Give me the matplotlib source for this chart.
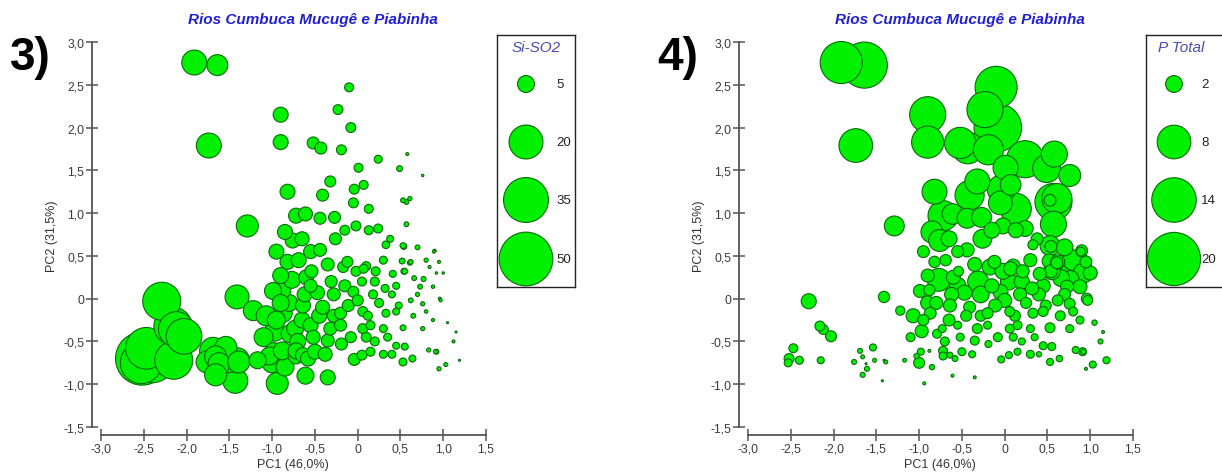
import matplotlib.pyplot as plt
import numpy as np
from matplotlib.ticker import FuncFormatter, MultipleLocator

plt.rcParams['font.family'] = ['Liberation Sans', 'DejaVu Sans']

# PCA scores of the sampling points (same points in both panels)
pc1 = [-1.91, -1.64, -1.74, -0.90, -0.90, -0.52, -0.43, -0.10, -0.23, -0.08,
       -0.19, 0.24, 0.58, 0.76, 0.49, 0.01, -0.32, -0.41, -0.04, 0.07,
       -0.82, 0.57, 0.61, 0.53, 0.13, -0.72, -0.61, -0.44, -0.27, 0.57,
       -1.29, -0.02, 0.24, -0.15, -0.85, -0.76, -0.26, -0.44, 0.53, 0.90,
       0.84, 0.62, -0.82, -0.54, -0.77, -0.90, -0.55, -0.99, -0.31, -0.17,
       -0.02, 0.05, 0.10, 0.21, 0.32, 0.41, 0.55, 0.73, 0.88, 0.96,
       0.62, 0.76, -1.41, -1.22, -1.07, -0.87, -0.64, -0.41, -0.11, -0.20,
       0.06, 0.33, 0.45, -0.97, -0.79, -0.73, -0.55, -0.32, -0.20, 0.06,
       0.15, 0.30, 0.53, 0.76, -0.35, -0.19, 0.20, 0.45, 0.55, 0.91,
       0.83, -0.72, -0.72, -0.64, -0.58, -0.50, -1.00, -0.98, -0.88, 0.05,
       0.15, -0.04, 0.53, 1.03, 0.95, 1.19, -0.61, -0.35, -0.94, -1.17,
       -1.03, -2.52, -2.40, -2.53, -2.47, -2.29, -2.15, -2.16, -2.12, -2.03,
       -1.69, -1.61, -1.43, -1.41, -1.52, -1.76, -1.54, -1.66, -1.66, -1.62,
       -1.39, -0.69, -0.62, -0.47, -0.35, -0.28, -0.05, 0.18, 0.25, 0.40,
       0.48, 0.66, 0.70, 0.80, 0.88, 0.97, 1.05, 1.15, 1.12, 0.89,
       0.95, 0.92, 0.77, 0.38, 0.33, 0.54, 0.52, 0.61, 0.54, -0.12,
       0.07, 0.64, 0.92, 0.30, 0.35, -0.08, 0.00, 0.12, -0.52, -0.65,
       -0.90, -0.45, -0.95, -0.88, -0.05, 0.13, -0.95, -0.80, -0.70, -0.60,
       -0.38, -0.28, -0.15, -0.55, -0.65, -1.10, -0.85, 0.20, 0.30, 0.45,
       0.65, 0.70, 0.80, 1.00, 0.10, 0.40]
pc2 = [2.76, 2.73, 1.79, 2.15, 1.83, 1.82, 1.76, 2.47, 2.21, 2.00,
       1.74, 1.63, 1.69, 1.44, 1.52, 1.53, 1.37, 1.21, 1.28, 1.33,
       1.25, 1.13, 1.17, 1.15, 1.05, 0.97, 0.99, 0.94, 0.95, 0.87,
       0.85, 0.85, 0.82, 0.80, 0.78, 0.68, 0.70, 0.57, 0.62, 0.56,
       0.37, 0.43, 0.43, 0.32, 0.22, 0.27, 0.15, 0.09, 0.20, 0.37,
       0.32, 0.20, 0.38, 0.32, 0.12, 0.29, 0.32, 0.14, 0.14, 0.00,
       -0.02, -0.06, 0.02, -0.14, -0.20, -0.17, -0.08, -0.10, -0.08, -0.17,
       -0.15, -0.17, -0.15, -0.38, -0.41, -0.35, -0.31, -0.35, -0.31, -0.35,
       -0.31, -0.35, -0.34, -0.35, -0.49, -0.53, -0.50, -0.55, -0.56, -0.62,
       -0.60, -0.61, -0.67, -0.66, -0.70, -0.62, -0.75, -0.62, -0.61, -0.66,
       -0.62, -0.71, -0.74, -0.77, -0.82, -0.72, -0.90, -0.92, -0.99, -0.72,
       -0.67, -0.70, -0.72, -0.75, -0.58, -0.03, -0.72, -0.32, -0.36, -0.44,
       -0.61, -0.82, -0.96, -0.72, -0.72, -0.74, -0.57, -0.68, -0.89, -0.76,
       -0.74, 0.45, 0.05, 0.07, 0.40, 0.05, 0.08, 0.05, -0.05, 0.05,
       -0.08, 0.24, 0.05, -0.15, -0.25, -0.02, -0.28, -0.39, -0.50, 0.55,
       0.43, 0.30, 0.23, 0.70, 0.63, 0.61, 0.44, 0.42, 0.32, 0.43,
       0.35, -0.70, -0.62, -0.65, -0.45, -0.45, -0.02, -0.20, -0.45, -0.25,
       -0.05, -0.20, 0.55, 0.10, 1.12, 0.80, -0.25, -0.05, -0.50, 0.25,
       -0.65, -0.20, 0.15, 0.55, 0.70, -0.45, -0.80, 0.20, 0.45, 0.15,
       -0.20, 0.60, 0.45, 0.30, -0.45, -0.65]
# Si-SO2 and P Total at each point
si = [10.8, 7.6, 10.8, 3.9, 3.9, 2.5, 2.5, 1.4, 1.7, 1.7,
      1.7, 1.1, 0.15, 0.1, 0.6, 1.4, 2.1, 2.5, 1.7, 1.4,
      3.9, 0.4, 0.3, 0.4, 1.4, 3.9, 3.4, 2.5, 2.5, 0.4,
      8.4, 1.7, 1.4, 1.7, 3.9, 3.9, 2.5, 2.9, 0.6, 0.16,
      0.16, 0.4, 3.9, 2.9, 5.0, 4.4, 2.9, 5.0, 2.5, 2.1,
      1.7, 1.4, 1.4, 1.4, 1.1, 0.85, 0.6, 0.4, 0.2, 0.16,
      0.4, 0.3, 10.0, 6.9, 6.9, 5.6, 3.9, 3.4, 2.5, 2.5,
      1.7, 1.1, 0.85, 6.9, 5.6, 5.0, 3.9, 2.9, 2.5, 1.7,
      1.4, 1.1, 0.6, 0.3, 2.9, 2.5, 1.4, 0.85, 0.85, 0.3,
      0.3, 4.4, 4.4, 3.9, 3.9, 3.9, 6.9, 5.6, 5.6, 1.7,
      1.4, 2.5, 1.1, 0.28, 0.3, 0.07, 5.0, 3.9, 8.4, 5.0,
      5.6, 49.0, 35.0, 30.0, 30.0, 25.0, 25.0, 25.0, 22.0, 22.0,
      12.6, 12.6, 10.8, 10.8, 10.8, 8.4, 8.4, 8.4, 8.4, 8.4,
      8.4, 3.9, 3.9, 3.4, 2.9, 2.9, 2.1, 1.4, 1.4, 0.85,
      0.85, 0.4, 0.3, 0.2, 0.16, 0.16, 0.07, 0.07, 0.16, 0.16,
      0.16, 0.1, 0.43, 0.85, 1.0, 0.6, 0.6, 0.43, 0.6, 2.1,
      1.4, 0.85, 0.43, 1.1, 1.1, 2.1, 2.1, 1.4, 3.4, 4.4,
      5.0, 3.9, 3.9, 5.0, 1.7, 1.4, 5.6, 5.0, 4.4, 3.9,
      3.4, 2.9, 2.5, 3.4, 3.4, 6.2, 5.6, 1.4, 1.1, 0.85,
      0.4, 0.4, 0.3, 0.1, 1.7, 1.1]
ptot = [12.5, 15.0, 8.0, 9.2, 7.3, 6.9, 7.0, 12.5, 9.2, 16.0,
        6.4, 9.7, 4.8, 3.4, 5.5, 4.4, 4.4, 6.0, 5.5, 3.0,
        4.4, 9.7, 6.4, 1.0, 6.8, 6.4, 3.0, 2.8, 2.8, 4.8,
        2.8, 1.8, 1.8, 1.8, 3.4, 3.4, 2.5, 1.4, 2.8, 1.0,
        6.4, 1.4, 0.9, 0.7, 3.7, 1.2, 2.0, 1.2, 3.1, 1.8,
        1.8, 2.0, 1.4, 1.2, 1.2, 1.2, 2.0, 1.2, 1.4, 0.85,
        0.85, 0.85, 0.9, 0.6, 1.4, 1.0, 1.2, 1.0, 1.2, 0.85,
        0.7, 0.7, 0.7, 1.2, 0.57, 0.45, 0.45, 0.7, 0.45, 0.57,
        0.57, 0.45, 0.7, 0.45, 0.57, 0.35, 0.35, 0.45, 0.45, 0.45,
        0.35, 0.57, 0.45, 0.25, 0.25, 0.45, 0.85, 0.35, 0.06, 0.35,
        0.35, 0.35, 0.35, 0.35, 0.06, 0.35, 0.06, 0.06, 0.06, 0.1,
        0.2, 0.7, 0.45, 0.45, 0.57, 1.6, 0.35, 0.7, 0.7, 0.85,
        0.18, 0.18, 0.03, 0.03, 0.11, 0.18, 0.35, 0.11, 0.18, 0.03,
        0.11, 0.9, 1.4, 1.6, 1.4, 2.0, 1.6, 1.2, 0.85, 1.2,
        0.85, 2.0, 1.0, 0.57, 0.45, 0.7, 0.2, 0.06, 0.18, 0.57,
        1.0, 2.8, 2.0, 1.0, 0.7, 1.0, 1.4, 1.0, 1.2, 1.2,
        1.4, 0.3, 0.2, 0.45, 0.35, 0.57, 1.4, 0.85, 0.45, 1.0,
        1.4, 0.85, 1.0, 0.9, 4.0, 1.6, 0.85, 1.2, 0.57, 1.4,
        0.35, 0.85, 1.4, 1.0, 1.8, 0.57, 0.2, 1.6, 1.2, 1.4,
        0.7, 2.0, 3.0, 1.4, 0.45, 0.2]

si_legend = [5, 20, 35, 50]
p_legend = [2, 8, 14, 20]

title = 'Rios Cumbuca Mucugê e Piabinha'
GREEN = '#00f000'
EDGE = '#0b6b0b'

W, H = 1222, 477
fig = plt.figure(figsize=(W / 100, H / 100), dpi=100)


def px_axes(x0, y0, x1, y1):
    # box in pixels, measured from the top left of the picture
    return fig.add_axes([x0 / W, 1 - y1 / H, (x1 - x0) / W, (y1 - y0) / H])


def fmt(v, pos):
    if abs(v) < 1e-9:
        return '0'
    return ('%.1f' % v).replace('.', ',')


def panel(x0, values, scale, label, leg_vals, leg_title, leg_x0, leg_x1, leg_cx, leg_tx, leg_title_x, leg_title_ha):
    ax = px_axes(x0, 43, x0 + 385, 428)
    vals = np.array(values)
    order = np.argsort(-vals)
    ax.scatter(np.array(pc1)[order], np.array(pc2)[order], s=vals[order] * scale,
               c=GREEN, edgecolors=EDGE, linewidths=0.8, zorder=3, clip_on=False)
    ax.set_xlim(-3.0, 1.5)
    ax.set_ylim(-1.5, 3.0)
    ax.xaxis.set_major_locator(MultipleLocator(0.5))
    ax.yaxis.set_major_locator(MultipleLocator(0.5))
    ax.xaxis.set_major_formatter(FuncFormatter(fmt))
    ax.yaxis.set_major_formatter(FuncFormatter(fmt))
    for s in ['top', 'right']:
        ax.spines[s].set_visible(False)
    ax.spines['left'].set_position(('outward', 6.5))
    ax.spines['bottom'].set_position(('outward', 5.8))
    for s in ['left', 'bottom']:
        ax.spines[s].set_color('#555555')
        ax.spines[s].set_linewidth(1.3)
    ax.tick_params(direction='inout', length=8, width=1.1, color='#555555',
                   labelsize=8.8, labelcolor='#3a3a3a', pad=1.5)
    ax.set_facecolor('none')

    cx = x0 + 192
    fig.text(cx / W, 1 - 465 / H, 'PC1 (46,0%)', ha='center', va='center',
             fontsize=9, color='#333333')
    fig.text((x0 - 49) / W, 1 - 236 / H, 'PC2 (31,5%)', ha='center', va='center',
             rotation=90, fontsize=9, color='#333333')
    fig.text((cx + 20) / W, 1 - 20 / H, title, ha='center', va='center', fontsize=11,
             fontweight='bold', fontstyle='italic', color='#2020d0')
    fig.text((x0 - 91) / W, 1 - 70 / H, label, ha='left', va='baseline', fontsize=33,
             fontweight='bold', color='black')

    # size legend box
    leg = px_axes(leg_x0, 36, leg_x1, 288)
    leg.set_xlim(leg_x0, leg_x1)
    leg.set_ylim(288, 36)
    leg.set_xticks([])
    leg.set_yticks([])
    for s in leg.spines.values():
        s.set_color('#222222')
        s.set_linewidth(1.0)
    ys = [85, 143, 201, 260]
    leg.scatter([leg_cx] * 4, ys, s=np.array(leg_vals) * scale, c=GREEN,
                edgecolors=EDGE, linewidths=0.8, clip_on=False, zorder=3)
    for v, y in zip(leg_vals, ys):
        leg.text(leg_tx, y, str(v), ha='left', va='center', fontsize=9.5, color='#222222')
    leg.text(leg_title_x, 48, leg_title, ha=leg_title_ha, va='center', fontsize=11,
             fontstyle='italic', color='#4b4bb5')
    return ax


panel(101, si, 29.9, '3)', si_legend, 'Si-SO2', 497, 575, 526, 556, 536, 'center')
panel(748, ptot, 73.4, '4)', p_legend, 'P Total', 1146, 1266, 1174, 1201, 1158, 'left')

fig.savefig('out.png', dpi=100)
